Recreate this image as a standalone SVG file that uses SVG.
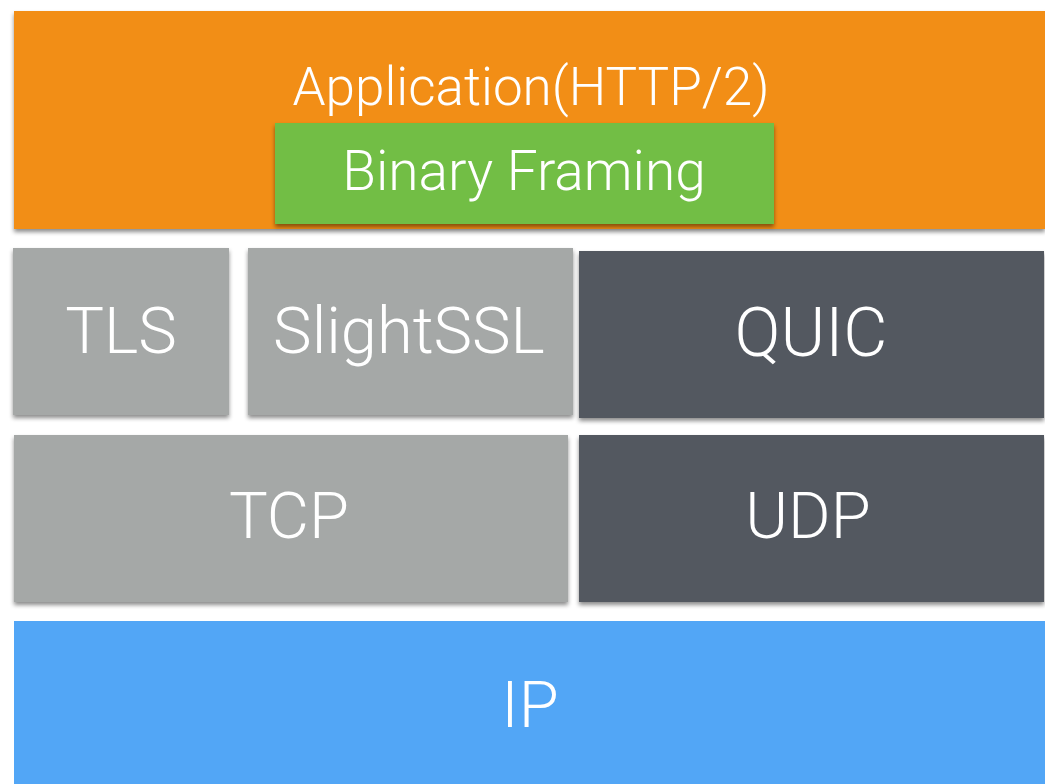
<svg xmlns="http://www.w3.org/2000/svg" width="1045" height="784" viewBox="0 0 1045 784">
<defs>
<filter id="sh" x="-5%" y="-10%" width="110%" height="125%">
<feDropShadow dx="0" dy="3" stdDeviation="2" flood-color="#000" flood-opacity="0.45"/>
</filter>
</defs>
<style>
text{font-family:Roboto,"Liberation Sans",sans-serif;font-weight:300;fill:#fff;text-anchor:middle}
.big{font-size:65px}
.mid{font-size:53px}
</style>
<rect width="1045" height="784" fill="#fff"/>
<g id="ip"><rect x="14" y="621" width="1031" height="163" fill="#52A6F6"/><text class="big" x="530" y="727">IP</text></g>
<g id="tcp"><rect x="14" y="435" width="554" height="167" fill="#A5A8A7" filter="url(#sh)"/><text class="big" x="289" y="538">TCP</text></g>
<g id="udp"><rect x="579" y="435" width="465" height="167" fill="#535861" filter="url(#sh)"/><text class="big" x="808" y="538">UDP</text></g>
<g id="tls"><rect x="13" y="248" width="216" height="167" fill="#A5A8A7" filter="url(#sh)"/><text class="big" x="121" y="353">TLS</text></g>
<g id="slightssl"><rect x="248" y="248" width="325" height="167" fill="#A5A8A7" filter="url(#sh)"/><text class="big" x="409" y="353">SlightSSL</text></g>
<g id="quic"><rect x="579" y="251" width="465" height="167" fill="#535861" filter="url(#sh)"/><text class="big" x="811" y="356" style="font-size:68px">QUIC</text></g>
<g id="application"><rect x="14" y="11" width="1031" height="218" fill="#F28E19" filter="url(#sh)"/><text class="mid" x="531" y="105">Application(HTTP/2)</text></g>
<g id="binary-framing"><rect x="275" y="123" width="499" height="101" fill="#72BE44" filter="url(#sh)"/><text class="mid" x="524" y="190" style="font-size:55px">Binary Framing</text></g>
<g id="connectors"></g>
</svg>
